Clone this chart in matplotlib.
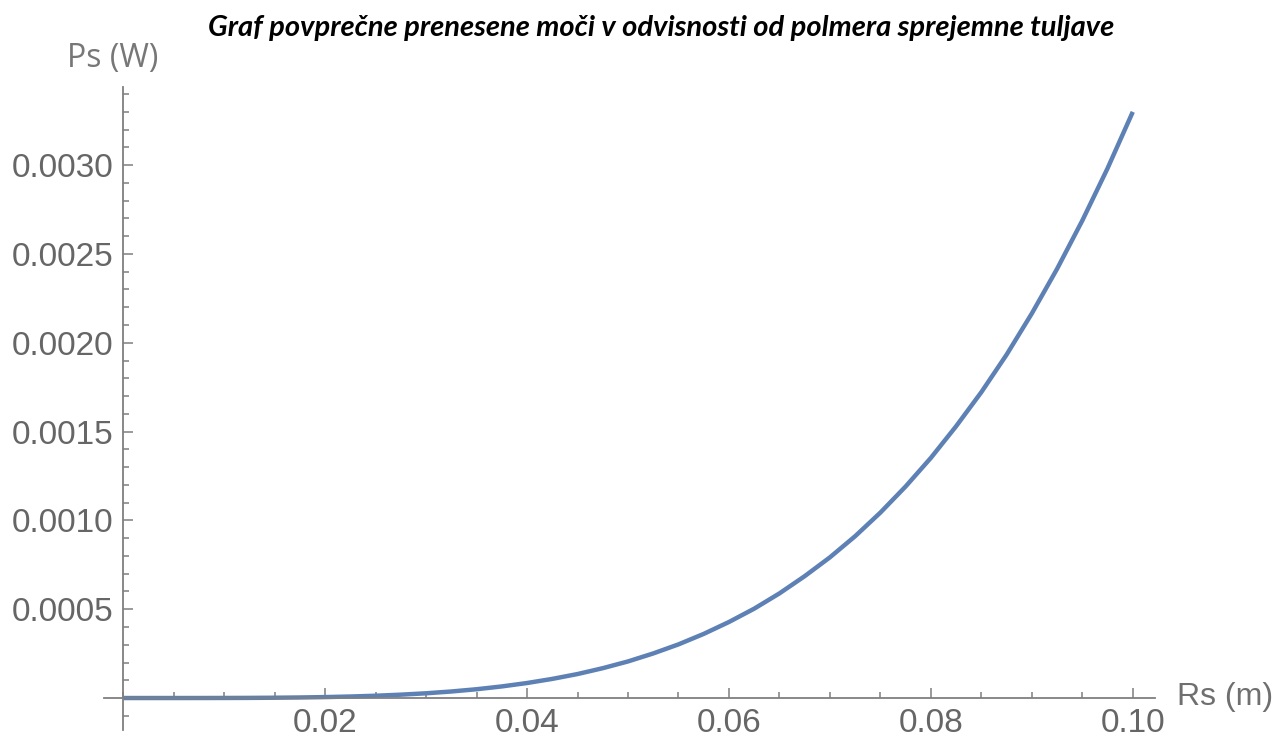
import matplotlib
matplotlib.use('Agg')
import matplotlib.pyplot as plt
from matplotlib.ticker import MultipleLocator, FixedLocator

# values
rs = [0.0, 0.0025, 0.005, 0.0075, 0.01, 0.0125, 0.015, 0.0175, 0.02, 0.0225,
      0.025, 0.0275, 0.03, 0.0325, 0.035, 0.0375, 0.04, 0.0425, 0.045, 0.0475,
      0.05, 0.0525, 0.055, 0.0575, 0.06, 0.0625, 0.065, 0.0675, 0.07, 0.0725,
      0.075, 0.0775, 0.08, 0.0825, 0.085, 0.0875, 0.09, 0.0925, 0.095, 0.0975, 0.10]
ps = [0.0, 0.0, 0.00000002, 0.0000001, 0.00000033, 0.0000008, 0.0000017, 0.0000031,
      0.0000053, 0.0000085, 0.0000129, 0.0000189, 0.0000267, 0.0000368, 0.0000495,
      0.0000653, 0.0000845, 0.0001077, 0.000135, 0.000168, 0.000206, 0.000251,
      0.000302, 0.000361, 0.000428, 0.000503, 0.000589, 0.000686, 0.000792,
      0.000911, 0.001044, 0.001191, 0.001352, 0.00153, 0.001722, 0.001933,
      0.002165, 0.002416, 0.002688, 0.002982, 0.00330]

x_ticks = [0.02, 0.04, 0.06, 0.08, 0.10]
x_labels = ['0.02', '0.04', '0.06', '0.08', '0.10']
y_ticks = [0.0005, 0.0010, 0.0015, 0.0020, 0.0025, 0.0030]
y_labels = ['0.0005', '0.0010', '0.0015', '0.0020', '0.0025', '0.0030']

title = 'Graf povprečne prenesene moči v odvisnosti od polmera sprejemne tuljave'

axcol = '#7f7f7f'
txtcol = '#666666'

fig = plt.figure(figsize=(12.79, 7.42), dpi=100)
ax = fig.add_axes([104/1279, 12/742, 1051/1279, 643/742])

ax.plot(rs, ps, color='#5e81b5', lw=3.2, solid_capstyle='butt', clip_on=False)

ax.set_xlim(-0.0019, 0.1022)
ax.set_ylim(-0.00018, 0.00344)

ax.spines['left'].set_position(('data', 0))
ax.spines['bottom'].set_position(('data', 0))
ax.spines['right'].set_visible(False)
ax.spines['top'].set_visible(False)
for s in ['left', 'bottom']:
    ax.spines[s].set_color(axcol)
    ax.spines[s].set_linewidth(1.3)

ax.xaxis.set_major_locator(FixedLocator(x_ticks))
ax.set_xticklabels(x_labels)
ax.xaxis.set_minor_locator(MultipleLocator(0.005))
ax.yaxis.set_major_locator(FixedLocator(y_ticks))
ax.set_yticklabels(y_labels)
ax.yaxis.set_minor_locator(MultipleLocator(0.0001))

ax.tick_params(which='both', direction='in', color=axcol, width=1.1)
ax.tick_params(which='major', length=7, labelsize=24, labelcolor=txtcol, pad=7)
ax.tick_params(which='minor', length=4)
for lab in ax.get_xticklabels() + ax.get_yticklabels():
    lab.set_family('Liberation Sans')

fig.text(661/1279, 1 - 28/742, title, ha='center', va='center',
         fontsize=21, fontweight='bold', fontstyle='italic', family='Lato', color='black')
fig.text(113/1279, 1 - 58/742, 'Ps (W)', ha='center', va='center',
         fontsize=23, family='Open Sans', color='#777777')
fig.text(1225/1279, 1 - 697/742, 'Rs (m)', ha='center', va='center',
         fontsize=23, family='Liberation Sans', color='#6f6f6f')

fig.savefig('out.png', dpi=100, facecolor='white')
